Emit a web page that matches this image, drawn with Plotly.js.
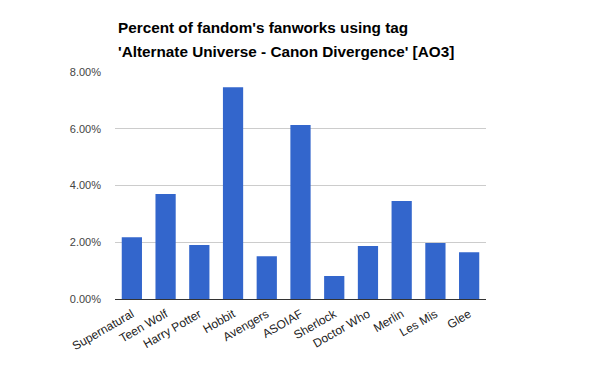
<!DOCTYPE html>
<html><head><meta charset="utf-8">
<script src="https://cdn.plot.ly/plotly-3.0.1.min.js"></script>
<style>body{margin:0;background:#fff}#c{width:600px;height:371px}</style>
</head><body><div id="c"></div>
<script>
var fandoms = ["Supernatural","Teen Wolf","Harry Potter","Hobbit","Avengers","ASOIAF","Sherlock","Doctor Who","Merlin","Les Mis","Glee"];
var percents = [0.0218,0.0370,0.0190,0.0746,0.0151,0.0613,0.0081,0.0187,0.0345,0.0197,0.0165];
var yTicks = [0,0.02,0.04,0.06,0.08];
var yTickText = ["0.00%","2.00%","4.00%","6.00%","8.00%"];
var titleLines = ["Percent of fandom's fanworks using tag","'Alternate Universe - Canon Divergence' [AO3]"];

var tf = {family:"Liberation Sans, Arial, sans-serif",size:15.3,color:"#000",weight:"bold"};
Plotly.newPlot("c",[{
  type:"bar", x:fandoms, y:percents,
  marker:{color:"#3366cc"}, hoverinfo:"x+y"
}],{
  width:600,height:371,
  margin:{l:115,r:114,t:72,b:72},
  paper_bgcolor:"#fff",plot_bgcolor:"#fff",
  font:{family:"Liberation Sans, Arial, sans-serif",size:11,color:"#444"},
  annotations:[
    {text:titleLines[0],xref:"paper",yref:"paper",x:0,xanchor:"left",xshift:1,y:1,yanchor:"middle",yshift:72-27,showarrow:false,font:tf},
    {text:titleLines[1],xref:"paper",yref:"paper",x:0,xanchor:"left",xshift:1,y:1,yanchor:"middle",yshift:72-51,showarrow:false,font:tf}
  ],
  bargap:0.4,
  xaxis:{tickangle:-30,showline:false,ticks:"",tickfont:{size:12,color:"#222"},automargin:false,ticklabelstandoff:5},
  yaxis:{range:[0,0.08],tickvals:yTicks,ticktext:yTickText,gridcolor:"#cccccc",zeroline:true,zerolinecolor:"#333",zerolinewidth:1,ticks:"",tickfont:{size:11,color:"#444"},automargin:false,ticklabelstandoff:13},
  showlegend:false
},{displayModeBar:false,staticPlot:true});
</script></body></html>
